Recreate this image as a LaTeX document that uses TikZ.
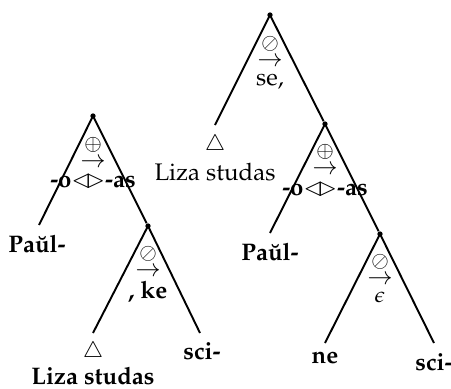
\documentclass[tikz,border=0pt]{standalone}
\usepackage[T1]{fontenc}
\usepackage{mathpazo}
\usepackage{amsmath, amssymb}
\usepackage{tikz}
\usetikzlibrary{positioning, calc}
\tikzset{
  branch/.style = {line width=0.8pt},
  knot/.style   = {circle, fill, inner sep=0pt, minimum size=2.2pt},
  lab/.style    = {font=\normalsize, inner sep=0pt},
  blab/.style   = {font=\normalsize\bfseries, inner sep=0pt},
  sym/.style    = {font=\small, inner sep=0pt},
  arr/.style    = {font=\normalsize, inner sep=0pt},
}
\newcommand{\bowsym}{$\lhd\mkern-4mu\rhd$}

\begin{document}
\begin{tikzpicture}[x=0.417pt, y=-0.417pt]
  \useasboundingbox (0,0) rectangle (451,389);

  % Left tree: upper triangle
  \node[knot] (la) at (93,116) {};
  \coordinate (la1) at (39,225);
  \node[knot] (lb) at (148,226) {};
  \node[sym] (laop)  at (93,145) {$\oplus$};
  \node[arr] (laarr) at (93,163) {$\rightarrow$};
  \node[blab] (lahd) at (93,181) {-o\bowsym-as};
  \node[blab] (lpaul) at (37,244) {Pa\u{u}l-};

  % Left tree: lower triangle
  \coordinate (lb1) at (93,333);
  \coordinate (lb2) at (200,333);
  \node[sym] (lbop)  at (148,254) {$\oslash$};
  \node[arr] (lbarr) at (148,272) {$\rightarrow$};
  \node[blab] (lbhd) at (148,292) {, ke};
  \node[sym] (ltri)  at (93,352) {$\triangle$};
  \node[blab] (lliza) at (93,376) {Liza studas};
  \node[blab] (lsci) at (202,351) {sci-};

  % Right tree: top triangle
  \node[knot] (ra) at (270,15) {};
  \coordinate (ra1) at (215,125);
  \node[knot] (rb) at (325,124) {};
  \node[sym] (raop)  at (270,44) {$\oslash$};
  \node[arr] (raarr) at (270,62) {$\rightarrow$};
  \node[lab] (rahd)  at (270,82) {se,};
  \node[sym] (rtri)  at (215,145) {$\triangle$};
  \node[lab] (rliza) at (215,172) {Liza studas};

  % Right tree: middle triangle
  \coordinate (rb1) at (270,233);
  \node[knot] (rc) at (380,234) {};
  \node[sym] (rbop)  at (325,152) {$\oplus$};
  \node[arr] (rbarr) at (325,170) {$\rightarrow$};
  \node[blab] (rbhd) at (325,189) {-o\bowsym-as};
  \node[blab] (rpaul) at (270,252) {Pa\u{u}l-};

  % Right tree: bottom triangle
  \coordinate (rc1) at (325,343);
  \coordinate (rc2) at (434,343);
  \node[sym] (rcop)  at (380,262) {$\oslash$};
  \node[arr] (rcarr) at (380,280) {$\rightarrow$};
  \node[sym] (rchd)  at (380,297) {$\epsilon$};
  \node[blab] (rne)  at (325,358) {ne};
  \node[blab] (rsci) at (434,362) {sci-};

  % Branches
  \foreach \a/\b in {la/la1, la/lb, lb/lb1, lb/lb2,
                     ra/ra1, ra/rb, rb/rb1, rb/rc, rc/rc1, rc/rc2}
    \draw[branch] (\a.center) -- (\b);
\end{tikzpicture}
\end{document}
